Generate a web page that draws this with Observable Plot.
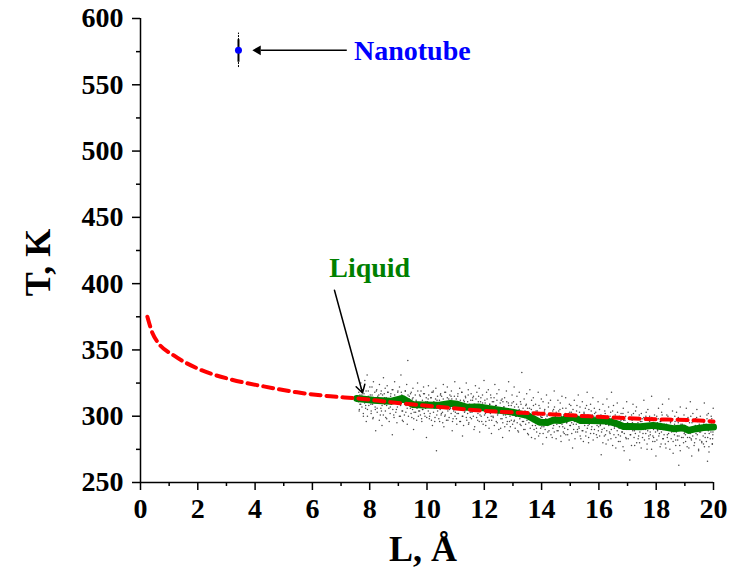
<!DOCTYPE html>
<html>
<head>
<meta charset="utf-8">
<script src="https://cdn.jsdelivr.net/npm/d3@7"></script>
<script src="https://cdn.jsdelivr.net/npm/@observablehq/plot@0.6"></script>
<style>
  html, body { margin: 0; padding: 0; background: #fff; }
</style>
</head>
<body>
<div id="chart"></div>
<script>
// Fitted curve (red dashed)
const fitL = [0.24, 0.42, 0.63, 1.15, 1.99, 3.14, 4.3, 5.47, 6.63, 7.6, 8.73, 10.47, 12.2, 13.96, 15.7, 17.45, 19.8, 20];
const fitT = [375, 362.5, 355, 346, 336, 327.8, 322.5, 318, 315, 313.4, 310.6, 306.9, 303.8, 301.9, 299.9, 298.1, 296.3, 296];

// Liquid running average (green)
const liqL = [7.55, 8.13, 8.73, 9.15, 9.5, 9.88, 10.37, 10.82, 11.06, 11.4, 11.8, 12.3, 12.98, 13.5, 13.93, 14.2, 14.43, 14.66, 15.1, 15.36, 15.7, 16.3, 16.6, 16.86, 17.1, 17.45, 17.9, 18.15, 18.6, 18.95, 19.13, 19.4, 19.65, 20];
const liqT = [313.4, 312, 311.2, 313.4, 308.9, 308.5, 308.2, 309.7, 309, 306.7, 306.9, 305.2, 303.1, 300.6, 295.5, 295.3, 297.2, 296.8, 299.3, 296.8, 296.8, 296.3, 294.6, 292.3, 292.3, 292.0, 293.1, 292.3, 290.6, 291.2, 289.3, 290.6, 291.4, 291.8];

// Nanotube point with spread
const tubeL = [3.42];
const tubeT = [576];
const tubeLow = [563];
const tubeHigh = [589];

// Scattered instantaneous values (black dots): outer spread
const cloud = [
[7.62,318],[7.66,309],[7.69,325],[7.64,305],[7.71,312],[7.75,320],[7.78,300],[7.73,316],
[7.83,327],[7.86,308],[7.81,314],[7.88,296],[7.92,305],[7.95,319],[7.97,311],[7.91,331],
[8.02,316],[8.05,302],[8.08,322],[8.04,309],[8.11,298],[8.16,313],[8.13,326],[8.19,307],
[8.23,319],[8.26,306],[8.21,289],[8.28,315],[8.32,311],[8.34,324],[8.37,301],[8.39,317],
[8.41,304],[8.45,316],[8.48,329],[8.43,293],[8.52,314],[8.56,299],[8.54,321],[8.59,308],
[8.61,323],[8.65,310],[8.68,296],[8.63,318],[8.72,307],[8.74,317],[8.77,312],[8.79,286],
[8.81,320],[8.84,301],[8.87,326],[8.89,311],[8.92,313],[8.95,295],[8.98,318],[8.93,305],
[9.01,309],[9.04,322],[9.07,300],[9.09,331],[9.12,316],[9.15,304],[9.18,312],[9.14,297],
[9.21,301],[9.24,319],[9.27,308],[9.29,324],[9.33,342],[9.36,311],[9.31,294],[9.38,315],
[9.42,306],[9.45,318],[9.47,299],[9.49,313],[9.51,321],[9.55,303],[9.58,310],[9.53,290],
[9.62,312],[9.64,297],[9.67,325],[9.69,307],[9.71,304],[9.74,316],[9.77,301],[9.79,319],
[9.82,296],[9.85,310],[9.88,322],[9.84,305],[9.91,317],[9.93,300],[9.96,311],[9.98,284],
[10.02,308],[10.05,323],[10.08,298],[10.04,313],[10.11,302],[10.14,314],[10.17,318],[10.19,293],
[10.22,319],[10.25,306],[10.28,299],[10.24,311],[10.33,274],[10.35,312],[10.37,304],[10.31,321],
[10.42,309],[10.44,296],[10.47,316],[10.49,301],[10.51,315],[10.54,303],[10.57,324],[10.59,292],
[10.62,300],[10.65,318],[10.68,307],[10.64,311],[10.71,322],[10.73,297],[10.76,313],[10.79,305],
[10.82,306],[10.85,319],[10.88,289],[10.84,315],[10.91,298],[10.94,311],[10.97,326],[10.99,303],
[11.02,313],[11.05,302],[11.08,317],[11.04,294],[11.11,307],[11.14,321],[11.17,296],[11.19,310],
[11.22,318],[11.25,300],[11.28,312],[11.24,285],[11.31,303],[11.34,315],[11.37,325],[11.39,297],
[11.42,311],[11.45,294],[11.48,306],[11.44,320],[11.51,299],[11.54,317],[11.57,303],[11.59,312],
[11.62,315],[11.64,290],[11.67,309],[11.69,323],[11.71,305],[11.74,318],[11.77,297],[11.79,311],
[11.82,321],[11.85,301],[11.88,314],[11.84,288],[11.91,296],[11.94,310],[11.97,305],[11.99,327],
[12.02,312],[12.05,293],[12.08,318],[12.04,302],[12.11,304],[12.14,320],[12.17,297],[12.19,309],
[12.22,316],[12.25,287],[12.28,311],[12.24,300],[12.31,299],[12.34,314],[12.37,324],[12.39,306],
[12.42,308],[12.45,295],[12.48,302],[12.44,317],[12.51,320],[12.54,303],[12.57,291],[12.59,312],
[12.62,298],[12.65,311],[12.68,307],[12.64,284],[12.71,314],[12.74,301],[12.77,319],[12.79,294],
[12.82,305],[12.85,326],[12.88,296],[12.84,310],[12.91,292],[12.94,308],[12.97,316],[12.99,301],
[13.02,311],[13.05,297],[13.08,304],[13.04,322],[13.11,300],[13.14,315],[13.17,289],[13.19,307],
[13.22,318],[13.25,294],[13.28,309],[13.24,302],[13.31,333],[13.34,303],[13.37,296],[13.39,313],
[13.42,290],[13.45,308],[13.48,317],[13.44,299],[13.51,306],[13.54,286],[13.57,301],[13.59,320],
[13.62,297],[13.65,312],[13.68,293],[13.64,305],[13.71,314],[13.74,300],[13.77,283],[13.79,309],
[13.82,291],[13.85,304],[13.88,318],[13.84,296],[13.91,308],[13.94,287],[13.97,300],[13.99,313],
[14.02,299],[14.05,311],[14.08,292],[14.04,279],[14.11,305],[14.14,294],[14.17,316],[14.19,301],
[14.22,288],[14.25,302],[14.28,297],[14.24,310],[14.31,312],[14.34,296],[14.37,284],[14.39,304],
[14.42,293],[14.45,307],[14.48,300],[14.44,319],[14.51,303],[14.54,289],[14.57,312],[14.59,296],
[14.62,297],[14.65,310],[14.68,281],[14.64,305],[14.71,315],[14.74,292],[14.77,301],[14.79,287],
[14.82,300],[14.85,306],[14.88,295],[14.84,314],[14.91,286],[14.94,302],[14.97,309],[14.99,293],
[15.02,308],[15.05,295],[15.08,276],[15.04,303],[15.11,294],[15.14,312],[15.17,299],[15.19,288],
[15.22,304],[15.25,290],[15.28,316],[15.24,298],[15.31,291],[15.34,307],[15.37,283],[15.39,301],
[15.42,311],[15.45,296],[15.48,303],[15.44,289],[15.51,299],[15.54,285],[15.57,308],[15.59,318],
[15.62,293],[15.65,305],[15.68,297],[15.64,280],[15.71,309],[15.74,290],[15.77,301],[15.79,314],
[15.82,287],[15.85,302],[15.88,296],[15.84,306],[15.91,300],[15.94,284],[15.97,311],[15.99,292],
[16.02,305],[16.05,294],[16.08,271],[16.04,299],[16.11,290],[16.14,309],[16.17,296],[16.19,285],
[16.22,302],[16.25,279],[16.28,313],[16.24,294],[16.31,296],[16.34,307],[16.37,288],[16.39,300],
[16.42,283],[16.45,298],[16.48,304],[16.44,318],[16.51,308],[16.54,291],[16.57,295],[16.59,276],
[16.62,294],[16.65,303],[16.68,286],[16.64,310],[16.71,300],[16.74,281],[16.77,297],[16.79,292],
[16.82,288],[16.85,306],[16.88,274],[16.84,302],[16.91,297],[16.94,284],[16.97,311],[16.99,293],
[17.02,303],[17.05,290],[17.08,267],[17.04,298],[17.11,286],[17.14,301],[17.17,295],[17.19,309],
[17.22,294],[17.25,278],[17.28,304],[17.24,289],[17.31,307],[17.34,292],[17.37,283],[17.39,299],
[17.42,280],[17.45,296],[17.48,302],[17.44,291],[17.51,298],[17.54,287],[17.57,312],[17.59,294],
[17.62,290],[17.65,303],[17.68,275],[17.64,300],[17.71,305],[17.74,285],[17.77,296],[17.79,288],
[17.82,293],[17.85,299],[17.88,281],[17.84,315],[17.91,284],[17.94,301],[17.97,292],[17.99,270],
[18.02,300],[18.05,289],[18.08,306],[18.04,295],[18.11,287],[18.14,296],[18.17,279],[18.19,303],
[18.22,309],[18.25,283],[18.28,294],[18.24,290],[18.31,292],[18.34,276],[18.37,301],[18.39,286],
[18.42,281],[18.45,298],[18.48,290],[18.44,313],[18.51,296],[18.54,288],[18.57,304],[18.59,272],
[18.62,289],[18.65,300],[18.68,282],[18.64,294],[18.71,303],[18.74,285],[18.77,295],[18.79,263],
[18.82,278],[18.85,297],[18.88,291],[18.84,307],[18.91,294],[18.94,284],[18.97,301],[18.99,288],
[19.02,286],[19.05,306],[19.08,277],[19.04,296],[19.11,299],[19.14,290],[19.17,284],[19.19,311],
[19.22,283],[19.25,295],[19.28,302],[19.24,270],[19.31,292],[19.34,280],[19.37,298],[19.39,287],
[19.42,305],[19.45,289],[19.48,275],[19.44,296],[19.51,288],[19.54,300],[19.57,293],[19.59,281],
[19.62,297],[19.65,279],[19.68,310],[19.64,290],[19.71,284],[19.74,294],[19.77,301],[19.79,266],
[19.82,302],[19.85,287],[19.88,292],[19.84,277],[19.91,290],[19.94,298],[19.97,283],[19.99,306],
[19.93,295],[19.96,279],[19.98,288],[19.92,300]
];

// Denser core of the cloud near the running average
const cloudCore = [
[7.607,311],[7.631,304],[7.659,316],[7.688,309],[7.702,321],[7.729,307],[7.747,314],[7.776,302],[7.801,317],[7.823,310],[7.857,306],[7.874,319],[7.903,313],[7.921,300],[7.949,315],[7.968,308],
[8.006,322],[8.027,311],[8.051,304],[8.083,316],[8.101,309],[8.122,299],[8.147,314],[8.178,318],[8.196,305],[8.218,312],[8.246,320],[8.262,303],[8.291,310],[8.318,316],[8.336,297],[8.357,311],
[8.389,306],[8.404,319],[8.431,308],[8.459,313],[8.476,301],[8.507,317],[8.523,309],[8.548,304],[8.577,314],[8.593,298],[8.614,311],[8.642,318],[8.669,306],[8.687,313],[8.712,302],[8.731,315],
[8.758,309],[8.783,320],[8.806,305],[8.829,312],[8.851,299],[8.872,316],[8.897,310],[8.912,303],[8.944,314],[8.967,307],[8.986,319],[9.013,311],[9.035,300],[9.061,315],[9.079,308],[9.104,318],
[9.127,304],[9.153,312],[9.171,296],[9.198,314],[9.216,309],[9.244,319],[9.263,303],[9.287,311],[9.309,306],[9.336,316],[9.352,300],[9.378,313],[9.401,308],[9.426,317],[9.443,302],[9.471,311],
[9.495,305],[9.513,314],[9.538,298],[9.562,309],[9.589,316],[9.604,303],[9.627,311],[9.652,306],[9.679,319],[9.698,300],[9.716,310],[9.743,304],[9.767,315],[9.788,308],[9.812,298],[9.839,312],
[9.857,305],[9.881,317],[9.906,302],[9.924,310],[9.951,306],[9.973,314],[9.992,299],
[10.018,311],[10.043,304],[10.061,316],[10.089,300],[10.112,309],[10.137,314],[10.155,297],[10.182,307],[10.207,318],[10.226,303],[10.249,310],[10.271,296],[10.298,313],[10.316,306],[10.342,301],
[10.368,315],[10.387,308],[10.413,298],[10.435,312],[10.458,305],[10.476,317],[10.503,302],[10.521,310],[10.549,295],[10.567,313],[10.592,306],[10.618,318],[10.636,301],[10.663,309],[10.681,297],
[10.708,314],[10.729,304],[10.754,311],[10.772,299],[10.798,316],[10.817,307],[10.843,302],[10.866,313],[10.889,296],[10.907,309],[10.932,304],[10.955,315],[10.978,300],
[11.003,311],[11.027,298],[11.049,306],[11.074,315],[11.097,302],[11.118,309],[11.143,296],[11.164,312],[11.188,305],[11.212,318],[11.231,300],[11.257,308],[11.276,293],[11.303,311],[11.324,304],
[11.349,314],[11.372,299],[11.391,307],[11.418,302],[11.437,316],[11.462,295],[11.484,309],[11.507,303],[11.529,312],[11.553,298],[11.571,306],[11.598,314],[11.616,300],[11.642,309],[11.664,292],
[11.687,304],[11.709,313],[11.733,299],[11.752,307],[11.778,302],[11.801,315],[11.823,296],[11.846,306],[11.868,311],[11.891,300],[11.913,305],[11.937,316],[11.958,294],[11.982,308],
[12.006,301],[12.028,310],[12.053,296],[12.071,306],[12.097,313],[12.118,299],[12.142,304],[12.166,291],[12.187,309],[12.211,302],[12.234,314],[12.258,297],[12.277,305],[12.303,300],[12.326,311],
[12.349,293],[12.372,303],[12.394,308],[12.417,296],[12.441,312],[12.463,301],[12.488,306],[12.506,290],[12.532,304],[12.554,310],[12.578,298],[12.597,303],[12.623,313],[12.646,295],[12.669,301],
[12.688,307],[12.714,292],[12.737,304],[12.759,299],[12.783,311],[12.804,296],[12.829,302],[12.851,308],[12.873,289],[12.897,300],[12.918,305],[12.942,297],[12.966,310],[12.988,294],
[13.011,303],[13.034,296],[13.057,307],[13.079,291],[13.102,300],[13.126,309],[13.148,295],[13.171,302],[13.193,288],[13.217,305],[13.239,298],[13.262,311],[13.284,293],[13.307,301],[13.331,296],
[13.353,306],[13.376,290],[13.398,299],[13.421,304],[13.443,294],[13.466,309],[13.489,297],[13.512,287],[13.534,302],[13.557,295],[13.579,306],[13.603,291],[13.626,299],[13.648,284],[13.671,303],
[13.693,296],[13.716,308],[13.738,290],[13.762,298],[13.784,293],[13.807,304],[13.829,288],[13.852,297],[13.874,301],[13.897,285],[13.919,294],[13.942,306],[13.965,291],[13.987,299],
[14.009,292],[14.032,301],[14.054,287],[14.077,296],[14.101,304],[14.123,290],[14.146,298],[14.168,284],[14.191,300],[14.214,293],[14.236,307],[14.259,289],[14.282,297],[14.304,302],[14.327,286],
[14.349,295],[14.372,299],[14.395,291],[14.418,305],[14.441,288],[14.463,296],[14.486,301],[14.508,283],[14.531,294],[14.553,299],[14.576,289],[14.599,304],[14.622,292],[14.644,297],[14.667,285],
[14.689,300],[14.712,294],[14.735,306],[14.757,288],[14.78,298],[14.803,291],[14.826,302],[14.848,286],[14.871,295],[14.893,300],[14.916,290],[14.939,297],[14.961,282],[14.984,303],
[15.006,293],[15.029,300],[15.052,287],[15.074,297],[15.097,305],[15.119,290],[15.142,296],[15.165,283],[15.187,301],[15.21,294],[15.233,308],[15.255,288],[15.278,298],[15.301,292],[15.323,303],
[15.346,285],[15.369,295],[15.391,300],[15.414,289],[15.437,297],[15.459,281],[15.482,302],[15.505,293],[15.527,306],[15.55,288],[15.573,296],[15.595,291],[15.618,301],[15.641,284],[15.663,294],
[15.686,299],[15.709,287],[15.731,304],[15.754,292],[15.777,297],[15.799,282],[15.822,300],[15.845,290],[15.867,295],[15.89,303],[15.913,286],[15.935,293],[15.958,298],[15.981,289],
[16.003,297],[16.026,285],[16.049,293],[16.071,301],[16.094,288],[16.117,295],[16.139,280],[16.162,299],[16.185,291],[16.207,304],[16.23,286],[16.253,294],[16.275,289],[16.298,300],[16.321,282],
[16.343,293],[16.366,297],[16.389,287],[16.411,303],[16.434,290],[16.457,295],[16.479,278],[16.502,298],[16.525,286],[16.547,292],[16.57,301],[16.593,284],[16.615,295],[16.638,289],[16.661,299],
[16.683,281],[16.706,291],[16.729,296],[16.751,285],[16.774,302],[16.797,288],[16.819,293],[16.842,277],[16.865,297],[16.887,287],[16.91,292],[16.933,300],[16.955,283],[16.978,290],
[17.001,295],[17.023,283],[17.046,291],[17.069,299],[17.091,286],[17.114,293],[17.137,278],[17.159,297],[17.182,289],[17.205,302],[17.227,284],[17.25,292],[17.273,287],[17.295,298],[17.318,280],
[17.341,291],[17.363,295],[17.386,285],[17.409,301],[17.431,288],[17.454,293],[17.477,276],[17.499,296],[17.522,284],[17.545,290],[17.567,299],[17.59,282],[17.613,293],[17.635,287],[17.658,297],
[17.681,279],[17.703,289],[17.726,294],[17.749,283],[17.771,300],[17.794,286],[17.817,291],[17.839,275],[17.862,295],[17.885,285],[17.907,290],[17.93,298],[17.953,281],[17.975,288],
[18.002,294],[18.024,282],[18.047,290],[18.07,298],[18.092,285],[18.115,292],[18.138,277],[18.16,296],[18.183,288],[18.206,301],[18.228,283],[18.251,291],[18.274,286],[18.296,297],[18.319,279],
[18.342,290],[18.364,294],[18.387,284],[18.41,300],[18.432,287],[18.455,292],[18.478,275],[18.5,295],[18.523,283],[18.546,289],[18.568,298],[18.591,281],[18.614,292],[18.636,286],[18.659,296],
[18.682,278],[18.704,288],[18.727,293],[18.75,282],[18.772,299],[18.795,285],[18.818,290],[18.84,274],[18.863,294],[18.886,284],[18.908,289],[18.931,297],[18.954,280],[18.976,287],
[19.004,293],[19.026,281],[19.049,289],[19.072,297],[19.094,284],[19.117,291],[19.14,276],[19.162,295],[19.185,287],[19.208,300],[19.23,282],[19.253,290],[19.276,285],[19.298,296],[19.321,278],
[19.344,289],[19.366,293],[19.389,283],[19.412,299],[19.434,286],[19.457,291],[19.48,274],[19.502,294],[19.525,282],[19.548,288],[19.57,297],[19.593,280],[19.616,291],[19.638,285],[19.661,295],
[19.684,277],[19.706,287],[19.729,292],[19.752,281],[19.774,298],[19.797,284],[19.82,289],[19.842,273],[19.865,293],[19.888,283],[19.91,288],[19.933,296],[19.956,279],[19.978,286]
];

// Axis tick values
const xMajor = [0, 2, 4, 6, 8, 10, 12, 14, 16, 18, 20];
const xMinor = [1, 3, 5, 7, 9, 11, 13, 15, 17, 19];
const yMajor = [250, 300, 350, 400, 450, 500, 550, 600];
const yMinor = [275, 325, 375, 425, 475, 525, 575];

// Annotation labels
const labels = ["Nanotube", "Liquid"];
const axisLabels = ["L, Å", "T, K"];

const fit = fitL.map((l, i) => ({L: l, T: fitT[i]}));
const liquid = liqL.map((l, i) => ({L: l, T: liqT[i]}));
const tube = tubeL.map((l, i) => ({L: l, T: tubeT[i], lo: tubeLow[i], hi: tubeHigh[i]}));
const dots = cloud.concat(cloudCore).map(([l, t]) => ({L: l, T: t}));

const font = "'Liberation Serif', 'Times New Roman', serif";

const chart = Plot.plot({
  width: 729,
  height: 575,
  marginLeft: 140,
  marginRight: 16,
  marginTop: 18,
  marginBottom: 93,
  x: {domain: [0, 20]},
  y: {domain: [250, 600]},
  style: {fontFamily: font, fontWeight: "bold", color: "black", background: "white", overflow: "visible"},
  marks: [
    // scatter cloud
    Plot.dot(dots, {x: "L", y: "T", r: 0.75, fill: "#1a1a1a", fillOpacity: 0.8, stroke: null}),
    // green running average
    Plot.line(liquid, {x: "L", y: "T", stroke: "#008000", strokeWidth: 7, curve: "linear", strokeLinejoin: "round"}),
    // red dashed fit
    Plot.line(fit, {x: "L", y: "T", stroke: "#ff0000", strokeWidth: 4, strokeDasharray: "10,6", curve: "monotone-x"}),
    // nanotube error bar and point
    Plot.ruleX(tube, {x: "L", y1: "lo", y2: "hi", stroke: "black", strokeWidth: 1, strokeDasharray: "2,1"}),
    Plot.ruleX(tube, {x: "L", y1: (d) => d.T - 9, y2: (d) => d.T + 8, stroke: "black", strokeWidth: 2}),
    Plot.dot(tube, {x: "L", y: "T", r: 3.5, fill: "#0000ff", stroke: null}),
    // arrows
    Plot.link([{x1: 7.2, y1: 576, x2: 4.2, y2: 576}], {x1: "x1", y1: "y1", x2: "x2", y2: "y2", stroke: "black", strokeWidth: 1.5}),
    Plot.dot([{x: 4.1, y: 576}], {x: "x", y: "y", symbol: "triangle", r: 3.6, rotate: -90, fill: "black", stroke: null}),
    Plot.arrow([{x1: 6.77, y1: 395, x2: 7.75, y2: 317.5}], {x1: "x1", y1: "y1", x2: "x2", y2: "y2", stroke: "black", strokeWidth: 1.5, headLength: 9}),
    // annotation text
    Plot.text([labels[0]], {x: 7.45, y: 576, text: (d) => d, textAnchor: "start", fill: "#0000ff", fontSize: 28, fontWeight: "bold", dy: 1}),
    Plot.text([labels[1]], {x: 8.0, y: 411.5, text: (d) => d, textAnchor: "middle", fill: "#008000", fontSize: 28, fontWeight: "bold"}),
    // axes
    Plot.axisX(xMajor, {tickSize: 8, tickPadding: 8, fontSize: 28, fontWeight: "bold", strokeWidth: 1.5, label: null}),
    Plot.axisX(xMinor, {tickSize: 4, text: null, strokeWidth: 1.5, label: null}),
    Plot.axisY(yMajor, {tickSize: 8, tickPadding: 9, fontSize: 28, fontWeight: "bold", strokeWidth: 1.5, label: null}),
    Plot.axisY(yMinor, {tickSize: 4, text: null, strokeWidth: 1.5, label: null}),
    Plot.ruleX([0], {y1: 250, y2: 600, stroke: "black", strokeWidth: 1.5}),
    Plot.ruleY([250], {x1: 0, x2: 20, stroke: "black", strokeWidth: 1.5}),
    // axis titles
    Plot.text([axisLabels[0]], {frameAnchor: "bottom", text: (d) => d, dy: 67, dx: -4, textAnchor: "middle", lineAnchor: "middle", fontSize: 36, fontWeight: "bold"}),
    Plot.text([axisLabels[1]], {frameAnchor: "left", text: (d) => d, dx: -102, dy: 12, rotate: -90, textAnchor: "middle", lineAnchor: "middle", fontSize: 36, fontWeight: "bold"})
  ]
});

document.getElementById("chart").appendChild(chart);
</script>
</body>
</html>
